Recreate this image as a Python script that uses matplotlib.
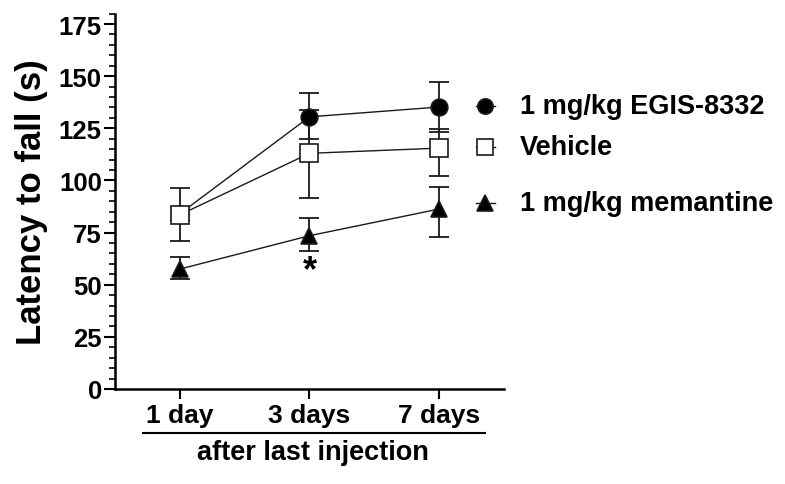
import matplotlib
matplotlib.use("Agg")
import matplotlib.pyplot as plt
from matplotlib.lines import Line2D
from matplotlib.ticker import MultipleLocator

plt.rcParams['font.family'] = ['Liberation Sans', 'DejaVu Sans']
plt.rcParams['font.weight'] = 'bold'

# data
days = ['1 day', '3 days', '7 days']
egis = [84, 130.5, 135.2]
egis_lo = [3, 10.8, 12]
egis_hi = [3, 11.2, 12]
vehicle = [83.5, 113, 115.5]
vehicle_lo = [12.5, 21.4, 13.5]
vehicle_hi = [12.9, 20.7, 9]
meman = [57.5, 73.5, 86.3]
meman_lo = [4.8, 7.2, 13.6]
meman_hi = [5.6, 8.6, 10.4]
labels = ['1 mg/kg EGIS-8332', 'Vehicle', '1 mg/kg memantine']

fig = plt.figure(figsize=(7.85, 4.85), dpi=100)
ax = fig.add_axes([0.1465, 0.1959, 0.4955, 0.774])

x = list(range(len(days)))
styles = [
    (egis, egis_lo, egis_hi, 'o', 'black', 12),
    (vehicle, vehicle_lo, vehicle_hi, 's', 'white', 12.5),
    (meman, meman_lo, meman_hi, '^', 'black', 12),
]
for vals, lo, hi, mk, fc, ms in styles:
    ax.errorbar(x, vals, yerr=[lo, hi], fmt='none', ecolor='#1a1a1a',
                elinewidth=1.3, capsize=7, capthick=1.3, zorder=2)
    ax.plot(x, vals, color='#1a1a1a', lw=1.0, marker=mk, markersize=ms,
            markerfacecolor=fc, markeredgecolor='#1a1a1a', markeredgewidth=1.2, zorder=3)

# significance
ax.text(1, meman[1] - 17, '*', ha='center', va='center', fontsize=26, fontweight='bold')

ax.set_xlim(-0.5, 2.5)
ax.set_ylim(0, 180)
ax.set_xticks(x)
ax.set_xticklabels(days, fontsize=19, fontweight='bold')
ax.set_yticks(range(0, 176, 25))
ax.yaxis.set_minor_locator(MultipleLocator(5))
ax.tick_params(axis='y', which='major', length=8, width=1.5, labelsize=18.5, pad=1.5)
ax.tick_params(axis='y', which='minor', length=4, width=1.2)
ax.tick_params(axis='x', which='major', length=7, width=1.5, pad=3)
for s in ['top', 'right']:
    ax.spines[s].set_visible(False)
for s in ['left', 'bottom']:
    ax.spines[s].set_linewidth(1.8)

ax.set_ylabel('Latency to fall (s)', fontsize=25, fontweight='bold')
ax.yaxis.set_label_coords(-0.172, 0.5)

# group line under x labels
ax.plot([0.072, 0.951], [-0.117, -0.117], transform=ax.transAxes,
        color='black', lw=1.5, clip_on=False)
ax.text(0.51, -0.167, 'after last injection', transform=ax.transAxes,
        ha='center', va='center', fontsize=19.5, fontweight='bold')

# legend, drawn by hand
leg_y = [0.779, 0.695, 0.580]
leg_mk = [('o', 'black', 11), ('s', 'white', 11), ('^', 'black', 11)]
for ly, (mk, fc, ms), lab in zip(leg_y, leg_mk, labels):
    fig.add_artist(Line2D([0.606, 0.631], [ly, ly], color='#1a1a1a', lw=1.0,
                          transform=fig.transFigure))
    fig.add_artist(Line2D([0.618], [ly], marker=mk, markersize=ms, markerfacecolor=fc,
                          markeredgecolor='#1a1a1a', markeredgewidth=1.2,
                          transform=fig.transFigure))
    fig.text(0.662, ly, lab, ha='left', va='center', fontsize=19.5, fontweight='bold')

fig.savefig('out.png', dpi=100)
